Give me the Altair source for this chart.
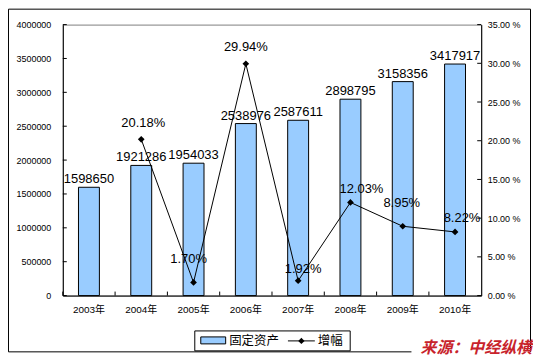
import altair as alt
import pandas as pd

# ---------------- data ----------------
years = ["2003年", "2004年", "2005年", "2006年", "2007年", "2008年", "2009年", "2010年"]
fixed_assets = [1598650, 1921286, 1954033, 2538976, 2587611, 2898795, 3158356, 3417917]
growth_pct = [None, 20.18, 1.70, 29.94, 1.92, 12.03, 8.95, 8.22]
left_ticks = [0, 500000, 1000000, 1500000, 2000000, 2500000, 3000000, 3500000, 4000000]
right_ticks = [0, 5, 10, 15, 20, 25, 30, 35]
legend_labels = ["固定资产", "增幅"]
source_text = "来源：中经纵横"

# ---------------- layout (pixel offsets of percentage labels) ----------------
pct_label_offsets = {
    "2004年": (2, -16), "2005年": (-5, -23), "2006年": (0, -17), "2007年": (5, -12),
    "2008年": (11, -13), "2009年": (-1, -23), "2010年": (7, -14),
}

FONT = "Liberation Sans, Arial, Noto Sans CJK SC, sans-serif"
CJK = "Noto Sans CJK SC, sans-serif"
W, H = 420, 272

df = pd.DataFrame({"year": years, "value": fixed_assets, "growth": growth_pct})
ltick_df = pd.DataFrame({"value": left_ticks})
rtick_df = pd.DataFrame({"growth": right_ticks})

x_enc = alt.X(
    "year:N", sort=years,
    scale=alt.Scale(paddingInner=0, paddingOuter=0),
    axis=alt.Axis(title=None, labelAngle=0, ticks=False, labelPadding=9,
                  labelFontSize=10, labelFont=FONT, labelColor="black",
                  domainColor="black", grid=False),
)
y_left = alt.Y(
    "value:Q", scale=alt.Scale(domain=[0, 4000000], nice=False),
    axis=alt.Axis(title=None, orient="left", values=left_ticks, format="d", ticks=False,
                  labelPadding=12, labelFontSize=9, labelFont=FONT, labelColor="black",
                  domainColor="black", grid=False),
)
y_right = alt.Y(
    "growth:Q", scale=alt.Scale(domain=[0, 35], nice=False),
    axis=alt.Axis(title=None, orient="right", values=right_ticks,
                  labelExpr="format(datum.value, '.2f') + ' %'", ticks=False,
                  labelPadding=6, labelFontSize=9, labelFont=FONT, labelColor="black",
                  domainColor="black", grid=False),
)

base = alt.Chart(df)

bars = base.mark_bar(color="#99CCFF", stroke="black", strokeWidth=1, size=21).encode(x=x_enc, y=y_left)
bar_labels = base.mark_text(baseline="bottom", dy=-1, fontSize=13, font=FONT, color="black").encode(
    x=x_enc, y=y_left, text=alt.Text("value:Q", format="d"))
xticks = base.mark_rule(color="black").encode(
    x=alt.X("year:N", sort=years, bandPosition=0), y=alt.value(H - 4), y2=alt.value(H))
lticks = alt.Chart(ltick_df).mark_rule(color="black").encode(
    y=y_left, x=alt.value(0), x2=alt.value(4))

left = alt.layer(bars, bar_labels, xticks, lticks)

line = base.mark_line(color="black", strokeWidth=1).encode(x=x_enc, y=y_right)
pts = base.mark_point(shape="diamond", filled=True, color="black", size=45, opacity=1).encode(x=x_enc, y=y_right)
rticks = alt.Chart(rtick_df).mark_rule(color="black").encode(
    y=y_right, x=alt.value(W - 4), x2=alt.value(W))

pct_layers = []
for yr, (dx, dy) in pct_label_offsets.items():
    pct_layers.append(
        base.transform_filter(alt.datum.year == yr)
        .transform_calculate(lbl="format(datum.growth, '.2f') + '%'")
        .mark_text(dx=dx, dy=dy, fontSize=13, font=FONT, color="black", baseline="middle")
        .encode(x=x_enc, y=y_right, text="lbl:N")
    )

right = alt.layer(line, pts, rticks, *pct_layers)

# ---------------- decorations: frame, legend, source ----------------
one = alt.Data(values=[{"a": 1}])
fl, ft, fr, fb = -54.5, -15.5, 469.5, 328.5
frame = [
    alt.Chart(one).mark_rule(color="black").encode(x=alt.value(fl), y=alt.value(ft), y2=alt.value(fb)),
    alt.Chart(one).mark_rule(color="black").encode(x=alt.value(fl), x2=alt.value(fr), y=alt.value(ft)),
    alt.Chart(one).mark_rule(color="black").encode(x=alt.value(fr), y=alt.value(ft), y2=alt.value(fb)),
    alt.Chart(one).mark_rule(color="black").encode(x=alt.value(fl), x2=alt.value(350), y=alt.value(fb)),
]
legend = [
    alt.Chart(one).mark_rect(fill="white", stroke="black", strokeWidth=1).encode(
        x=alt.value(132.5), x2=alt.value(288.5), y=alt.value(307.5), y2=alt.value(327.5)),
    alt.Chart(one).mark_rect(fill="#99CCFF", stroke="black", strokeWidth=1).encode(
        x=alt.value(138.5), x2=alt.value(163.5), y=alt.value(313.5), y2=alt.value(320.5)),
    alt.Chart(one).mark_text(text=legend_labels[0], align="left", baseline="middle", fontSize=12.5,
                             font=CJK, color="black").encode(x=alt.value(167), y=alt.value(317.5)),
    alt.Chart(one).mark_rule(color="black").encode(
        x=alt.value(226), x2=alt.value(253), y=alt.value(317.5)),
    alt.Chart(one).mark_point(shape="diamond", filled=True, color="black", size=40, opacity=1).encode(
        x=alt.value(239.5), y=alt.value(317.5)),
    alt.Chart(one).mark_text(text=legend_labels[1], align="left", baseline="middle", fontSize=12.5,
                             font=CJK, color="black").encode(x=alt.value(256), y=alt.value(317.5)),
]
source = alt.Chart(one).mark_text(
    text=source_text, align="right", baseline="alphabetic", fontSize=16, font=CJK,
    fontWeight="bold", fontStyle="italic", color="#C8232B").encode(x=alt.value(471), y=alt.value(330))

chart = (
    alt.layer(left, right, *frame, *legend, source)
    .resolve_scale(y="independent")
    .properties(width=W, height=H, autosize=alt.AutoSizeParams(type="none"),
                padding={"left": 55, "top": 16, "right": 52, "bottom": 61})
    .configure_view(stroke="#808080")
    .configure_axis(grid=False)
)

chart.save("out.html", embed_options={"renderer": "svg", "actions": False})
